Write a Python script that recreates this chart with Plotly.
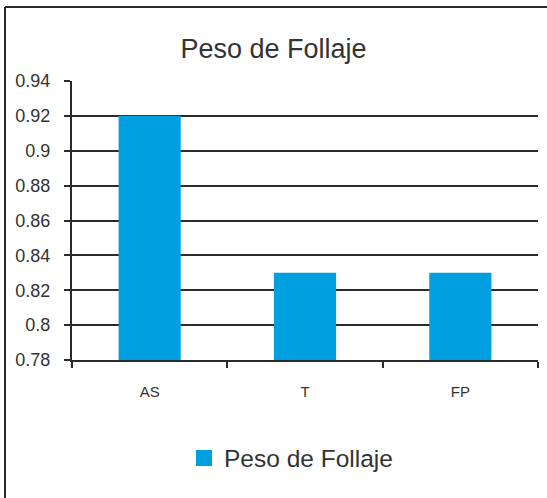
import plotly.graph_objects as go

categories = ["AS", "T", "FP"]
values = [0.92, 0.83, 0.83]
y_ticks = [0.78, 0.8, 0.82, 0.84, 0.86, 0.88, 0.9, 0.92, 0.94]
y_tick_labels = ["0.78", "0.8", "0.82", "0.84", "0.86", "0.88", "0.9", "0.92", "0.94"]
series_name = "Peso de Follaje"
title_text = "Peso de Follaje"
bar_color = "#00A0E0"

W, H = 547, 498
ml, mr, mt, mb = 72, 9, 81, 138
pw, ph = W - ml - mr, H - mt - mb

fig = go.Figure()
fig.add_trace(go.Bar(
    x=categories, y=values, name=series_name,
    marker=dict(color=bar_color, line=dict(width=0)),
    showlegend=False,
))
# legend proxy (square swatch like the reference legend)
fig.add_trace(go.Scatter(
    x=[None], y=[None], mode="markers", name=series_name,
    marker=dict(symbol="square", size=17, color=bar_color, line=dict(width=0)),
    showlegend=True, hoverinfo="skip",
))

fig.update_layout(
    width=W, height=H,
    margin=dict(l=ml, r=mr, t=mt, b=mb, pad=0),
    paper_bgcolor="white", plot_bgcolor="white",
    font=dict(family="Liberation Sans, Arial, sans-serif", color="#333333"),
    bargap=0.6,
    title=dict(text=title_text, x=0.5, xanchor="center", xref="container",
               y=1 - 49 / H, yanchor="middle", yref="container",
               font=dict(size=27, color="#333333")),
    showlegend=True,
    legend=dict(orientation="h", x=(184 - ml) / pw, xanchor="left",
                y=(360 - 458) / ph, yanchor="middle",
                font=dict(size=24.5, color="#333333"),
                itemsizing="trace", bgcolor="rgba(0,0,0,0)"),
    xaxis=dict(
        showline=True, linecolor="#2a2a2a", linewidth=2,
        ticks="outside", ticklen=6, tickwidth=2, tickcolor="#2a2a2a",
        tickson="boundaries", showgrid=False,
        tickfont=dict(size=15, color="#333333"),
        ticklabelstandoff=17,
    ),
    yaxis=dict(
        range=[0.78, 0.94], tickvals=y_ticks, ticktext=y_tick_labels,
        showline=True, linecolor="#2a2a2a", linewidth=2,
        ticks="outside", ticklen=6, tickwidth=2, tickcolor="#2a2a2a",
        showgrid=True, gridcolor="#2a2a2a", gridwidth=2,
        zeroline=False,
        tickfont=dict(size=18, color="#333333"),
        ticklabelstandoff=10,
    ),
    shapes=[
        dict(type="line", xref="paper", yref="paper",
             x0=-(ml - 5) / pw, x1=1 + mr / pw + 0.05,
             y0=1 + (mt - 7) / ph, y1=1 + (mt - 7) / ph,
             line=dict(color="#2a2a2a", width=2)),
        dict(type="line", xref="paper", yref="paper",
             x0=-(ml - 5) / pw, x1=-(ml - 5) / pw,
             y0=1 + (mt - 7) / ph, y1=-mb / ph - 0.05,
             line=dict(color="#2a2a2a", width=2)),
    ],
)

fig.write_html("out.html", config={"displayModeBar": False},
               post_script="document.body.style.margin='0';")
